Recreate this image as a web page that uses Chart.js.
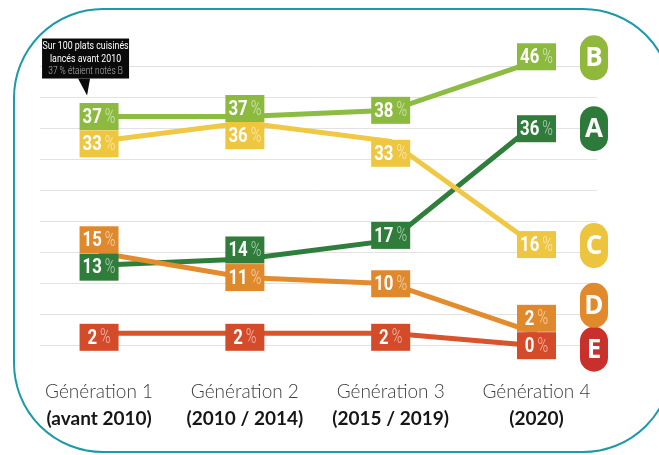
<!DOCTYPE html>
<html>
<head>
<meta charset="utf-8">
<script src="https://cdn.jsdelivr.net/npm/chart.js@4"></script>
<style>
html, body { margin: 0; padding: 0; background: #fff; overflow: hidden; }
#wrap { position: relative; width: 659px; height: 455px; overflow: hidden; }
#frame { position: absolute; left: 13px; top: 8px; width: 660px; height: 445px; border: 2px solid #1b9aa9; border-radius: 90px; box-sizing: border-box; }
#gradeChart { position: absolute; left: 0; top: 0; }
</style>
</head>
<body>
<div id="wrap">
  <div id="frame"></div>
  <canvas id="gradeChart" width="659" height="455"></canvas>
</div>
<script>
var generations = ["Génération 1", "Génération 2", "Génération 3", "Génération 4"];
var periods = ["(avant 2010)", "(2010 / 2014)", "(2015 / 2019)", "(2020)"];
var gradeA = [13, 14, 17, 36];
var gradeB = [37, 37, 38, 46];
var gradeC = [33, 36, 33, 16];
var gradeD = [15, 11, 10, 2];
var gradeE = [2, 2, 2, 0];
var gridValues = [0, 5, 10, 15, 20, 25, 30, 35, 40, 45];
var calloutLines = ["Sur 100 plats cuisinés", "lancés avant 2010", "37 % étaient notés B"];

function toPoints(values) {
    return values.map(function (v, i) { return { x: i, y: v }; });
}

// no condensed face installed, so squeeze the text horizontally
function narrowText(ctx, text, x, y, sx) {
    ctx.save();
    ctx.translate(x, y);
    ctx.scale(sx, 1);
    ctx.fillText(text, 0, 0);
    ctx.restore();
}

var numFont = 'bold 21px Roboto, sans-serif';
var pctFont = '300 20px Roboto, sans-serif';

// boxes and badges drawn on top of the lines
var gradeLabels = {
    id: 'gradeLabels',
    afterDatasetsDraw: function (chart) {
        var ctx = chart.ctx;
        ctx.save();
        chart.data.datasets.forEach(function (ds, d) {
            var meta = chart.getDatasetMeta(d);
            meta.data.forEach(function (pt, i) {
                var cx = pt.x, cy = pt.y + ds.boxShift[i];
                ctx.fillStyle = ds.boxColor;
                ctx.fillRect(cx - 19.5, cy - 13.5, 39, 27);
                var num = String(ds.data[i].y);
                ctx.font = numFont;
                var w1 = ctx.measureText(num).width * 0.8;
                ctx.font = pctFont;
                var w2 = ctx.measureText('%').width * 0.72;
                var x0 = cx - (w1 + 3 + w2) / 2;
                ctx.textBaseline = 'middle';
                ctx.textAlign = 'left';
                ctx.fillStyle = '#fff';
                ctx.font = numFont;
                narrowText(ctx, num, x0, cy + 1, 0.8);
                ctx.fillStyle = 'rgba(255,255,255,0.62)';
                ctx.font = pctFont;
                narrowText(ctx, '%', x0 + w1 + 3, cy + 1, 0.72);
            });
            // letter badge at the end of the line
            var last = meta.data[meta.data.length - 1];
            var bx = last.x + 57.5, by = last.y + ds.badgeShift;
            ctx.fillStyle = ds.badgeColor;
            ctx.beginPath();
            ctx.roundRect(bx - 14, by - 22.5, 28, 45, 14);
            ctx.fill();
            ctx.fillStyle = '#fff';
            ctx.font = 'bold 26px "Open Sans", "DejaVu Sans", sans-serif';
            ctx.textAlign = 'center';
            ctx.textBaseline = 'middle';
            ctx.fillText(ds.label, bx, by + 1);
        });

        // callout above the first B box
        var bIndex = chart.data.datasets.findIndex(function (ds) { return ds.label === 'B'; });
        var p = chart.getDatasetMeta(bIndex).data[0];
        var left = p.x - 57, top = p.y - 78, w = 87, h = 40;
        ctx.fillStyle = '#0a0a0a';
        ctx.fillRect(left, top, w, h);
        ctx.beginPath();
        ctx.moveTo(p.x - 21, top + h);
        ctx.lineTo(p.x - 9, top + h);
        ctx.lineTo(p.x - 12, p.y - 21);
        ctx.closePath();
        ctx.fill();
        ctx.textAlign = 'left';
        ctx.textBaseline = 'middle';
        calloutLines.forEach(function (t, k) {
            ctx.fillStyle = k < 2 ? '#fff' : '#b5b5b5';
            ctx.font = (k < 2 ? '11px ' : '300 10.5px ') + 'Roboto, sans-serif';
            var sx = 0.8;
            var tw = ctx.measureText(t).width * sx;
            narrowText(ctx, t, left + (w - tw) / 2, top + 8 + k * 12.5, sx);
        });
        ctx.restore();
    }
};

var xRange = { min: -0.405, max: 3.415 };

new Chart(document.getElementById('gradeChart').getContext('2d'), {
    type: 'line',
    data: {
        datasets: [{
            label: 'E', data: toPoints(gradeE), borderColor: '#d9532b', boxColor: '#d44b29', badgeColor: '#c9302b',
            boxShift: [4, 4, 4, 0], badgeShift: 3.5
        }, {
            label: 'D', data: toPoints(gradeD), borderColor: '#e38c2e', boxColor: '#e0892c', badgeColor: '#e08a2c',
            boxShift: [-13, 0, 0, -15], badgeShift: -28
        }, {
            label: 'C', data: toPoints(gradeC), borderColor: '#f0c843', boxColor: '#efc63f', badgeColor: '#ecc43d',
            boxShift: [2.5, 13, 12, -2], badgeShift: -1
        }, {
            label: 'B', data: toPoints(gradeB), borderColor: '#8dbc42', boxColor: '#8cba3f', badgeColor: '#8fb83c',
            boxShift: [0, -8, 0, -4], badgeShift: -3
        }, {
            label: 'A', data: toPoints(gradeA), borderColor: '#2f7e3c', boxColor: '#2f7c3b', badgeColor: '#2e7a3a',
            boxShift: [2, -9, -5, 6], badgeShift: 6
        }]
    },
    options: {
        responsive: false,
        animation: false,
        layout: { padding: { left: 40, right: 62, top: 36, bottom: 23 } },
        elements: {
            line: { borderWidth: 5, tension: 0, borderCapStyle: 'butt' },
            point: { radius: 0 }
        },
        plugins: { legend: { display: false }, tooltip: { enabled: false } },
        scales: {
            y: {
                min: -5.28, max: 50,
                afterBuildTicks: function (s) { s.ticks = gridValues.map(function (v) { return { value: v }; }); },
                grid: { color: '#e2e2e2', lineWidth: 1, drawTicks: false },
                border: { display: false },
                ticks: { display: false }
            },
            x: {
                type: 'linear', position: 'bottom', weight: 0,
                min: xRange.min, max: xRange.max,
                afterBuildTicks: function (s) { s.ticks = generations.map(function (g, i) { return { value: i }; }); },
                grid: { display: false, drawTicks: false },
                border: { display: false },
                ticks: {
                    autoSkip: false, maxRotation: 0, padding: 2, color: '#3d3d3d',
                    font: { family: 'Lato', size: 19, weight: 300 },
                    callback: function (v) { return generations[v]; }
                }
            },
            x2: {
                type: 'linear', position: 'bottom', weight: 1,
                min: xRange.min, max: xRange.max,
                afterBuildTicks: function (s) { s.ticks = periods.map(function (g, i) { return { value: i }; }); },
                grid: { display: false, drawTicks: false },
                border: { display: false },
                ticks: {
                    autoSkip: false, maxRotation: 0, padding: 2, color: '#161616',
                    font: { family: 'Lato', size: 19, weight: 'bold' },
                    callback: function (v) { return periods[v]; }
                }
            }
        }
    },
    plugins: [gradeLabels]
});
</script>
</body>
</html>
